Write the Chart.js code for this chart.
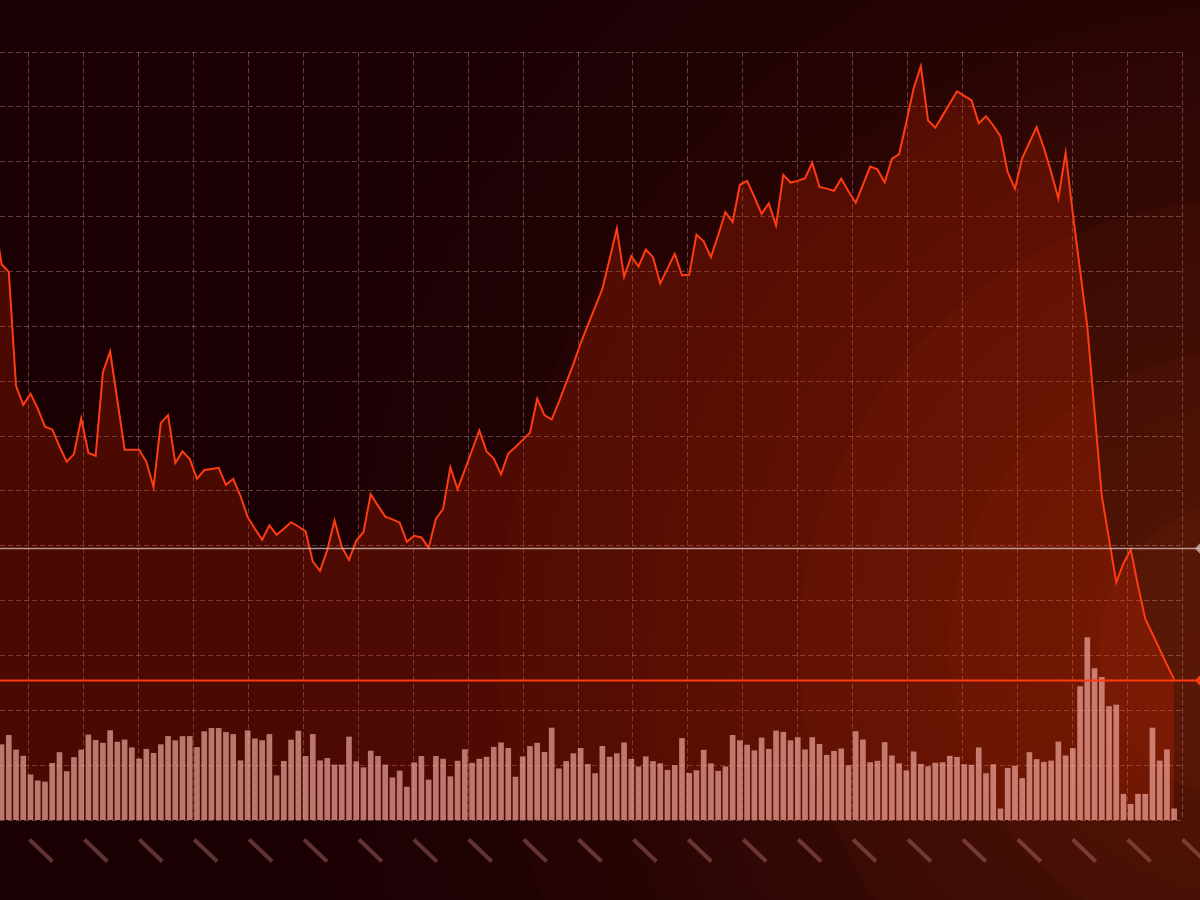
<!DOCTYPE html>
<html>
<head>
<meta charset="utf-8">
<script src="https://cdn.jsdelivr.net/npm/chart.js@4/dist/chart.umd.min.js"></script>
<style>
  html, body {
    margin: 0;
    padding: 0;
    width: 1200px;
    height: 900px;
    overflow: hidden;
    background: #1a0003;
  }
  body {
    background: radial-gradient(circle 1300px at 1250px 650px,
      #5c1806 0px, #561606 150px, #4e1305 151px, #471005 300px,
      #410e04 301px, #3a0b04 450px, #340904 451px, #2d0604 600px,
      #290504 601px, #240304 750px, #200204 751px, #1c0104 950px,
      #1a0003 951px, #1a0003 1300px);
  }
  #wrap { position: absolute; left: 0; top: 0; width: 1200px; height: 900px; }
</style>
</head>
<body>
<div id="wrap"><canvas id="grafico"></canvas></div>
<script>
// Cotação (preço) por barra — o primeiro ponto fica fora da área visível
const prices = [
  40.99, 40.13, 39.99, 37.91, 37.57, 37.77, 37.50, 37.17, 37.12, 36.81, 36.53,
  36.67, 37.32, 36.69, 36.64, 38.16, 38.54, 37.65, 36.75, 36.75, 36.75,
  36.53, 36.07, 37.24, 37.38, 36.51, 36.72, 36.58, 36.22, 36.38, 36.40,
  36.42, 36.11, 36.22, 35.91, 35.52, 35.31, 35.11, 35.37, 35.20, 35.31,
  35.43, 35.35, 35.26, 34.71, 34.54, 34.92, 35.46, 34.98, 34.74, 35.09,
  35.25, 35.94, 35.73, 35.53, 35.48, 35.42, 35.07, 35.18, 35.15, 34.96,
  35.49, 35.67, 36.43, 36.03, 36.38, 36.74, 37.10, 36.72, 36.59, 36.30,
  36.68, 36.80, 36.93, 37.06, 37.68, 37.38, 37.30, 37.62, 37.97, 38.31,
  38.69, 39.02, 39.35, 39.68, 40.22, 40.78, 39.90, 40.28, 40.09, 40.40,
  40.26, 39.78, 40.05, 40.32, 39.93, 39.94, 40.67, 40.55, 40.26, 40.66,
  41.08, 40.90, 41.58, 41.65, 41.36, 41.05, 41.24, 40.84, 41.76, 41.62,
  41.65, 41.70, 41.98, 41.54, 41.51, 41.47, 41.69, 41.46, 41.25, 41.58,
  41.91, 41.86, 41.62, 42.05, 42.14, 42.72, 43.33, 43.74, 42.75, 42.62,
  42.84, 43.06, 43.28, 43.20, 43.12, 42.70, 42.83, 42.66, 42.46, 41.81,
  41.51, 42.06, 42.35, 42.63, 42.25, 41.81, 41.33, 42.16, 41.05, 40.02,
  38.99, 37.44, 35.91, 35.12, 34.33, 34.68, 34.93, 34.27, 33.67, 33.39,
  33.11, 32.83, 32.56
];

// Volume por barra
const volumes = [
  40, 41.2, 46.3, 38.3, 34.9, 24.7, 21.4, 20.8, 31, 36.9, 26.5,
  34.2, 38.3, 46.5, 43.6, 42, 48.9, 42.6, 43.8, 39.5, 33.4,
  38.7, 36.5, 41.2, 45.7, 43.4, 45.7, 45.7, 39.7, 48.3, 50.1,
  50.1, 47.9, 46.8, 32.4, 48.8, 44.4, 43.4, 46.8, 24.2, 32.1,
  43.7, 48.6, 34.8, 46.8, 32.4, 33.7, 30.1, 30.1, 45.4, 31.9,
  28.6, 37.7, 34.8, 30.1, 23.1, 26.8, 18.0, 31.3, 34.8, 21.9,
  34.8, 33.3, 23.7, 32.2, 38.5, 31.1, 33.3, 34.4, 39.8, 42.2,
  39.2, 23.5, 34.6, 40.2, 42, 37, 50.3, 28, 32, 36.3,
  39.2, 30.4, 25.4, 40.3, 34.4, 36.3, 42.2, 33.2, 29.1, 34.6,
  32, 30.8, 27.2, 29.8, 44.6, 25.5, 27, 38.2, 30.8, 26.7,
  29.1, 46.3, 43.4, 41, 37.9, 44.9, 38.7, 48.7, 48, 43.4,
  45.1, 38.4, 45.1, 41.4, 35.4, 37.6, 38.9, 29.7, 48.4, 43.8,
  31.4, 32.2, 42.4, 35.1, 30.8, 27, 37.3, 30.5, 29.2, 31.1,
  31.4, 34.9, 34.3, 30.3, 30, 39.5, 25.4, 30.3, 6.1, 28.3,
  29.5, 22.7, 36.9, 33.1, 31.6, 32.3, 42.7, 35.1, 39.1, 73,
  99.7, 82.8, 78, 62.1, 62.9, 14.1, 8.6, 14.1, 14.1, 50.3,
  32.3, 38.4, 6.1
];

// Fechamento anterior (linha cinza) e último preço (linha laranja)
const prevClose = 34.95;
const lastPrice = prices[prices.length - 1];

const LINE_COLOR = "#ff3b12";

// Linhas de referência, losangos e marcas do eixo
const overlays = {
  id: "overlays",
  afterDatasetsDraw(chart) {
    const { ctx, scales } = chart;
    const nivel = (value, color, width) => {
      const py = Math.round(scales.y.getPixelForValue(value)) + 0.5;
      ctx.save();
      ctx.strokeStyle = color;
      ctx.lineWidth = width;
      ctx.beginPath();
      ctx.moveTo(0, py);
      ctx.lineTo(chart.width, py);
      ctx.stroke();
      ctx.fillStyle = color;
      ctx.beginPath();
      ctx.moveTo(1195, py);
      ctx.lineTo(1204, py - 9.5);
      ctx.lineTo(1213, py);
      ctx.lineTo(1204, py + 9.5);
      ctx.closePath();
      ctx.fill();
      ctx.restore();
    };
    nivel(prevClose, "rgba(214,182,176,0.8)", 1.5);
    nivel(lastPrice, LINE_COLOR, 2);
  },
  afterDraw(chart) {
    const { ctx, scales, chartArea } = chart;
    const xg = scales.xg;
    ctx.save();
    ctx.strokeStyle = "rgba(190,120,120,0.42)";
    ctx.lineWidth = 4;
    xg.ticks.forEach(t => {
      const px = xg.getPixelForValue(t.value);
      ctx.beginPath();
      ctx.moveTo(px + 0.5, chartArea.bottom + 19.5);
      ctx.lineTo(px + 23.5, chartArea.bottom + 41.5);
      ctx.stroke();
    });
    ctx.restore();
  }
};

const gridColor = "rgba(205,140,140,0.42)";

new Chart(document.getElementById("grafico"), {
  data: {
    datasets: [
      {
        type: "bar",
        label: "Volume",
        data: volumes.map((v, i) => ({ x: i, y: v })),
        xAxisID: "x",
        yAxisID: "yv",
        backgroundColor: "rgba(255,188,178,0.62)",
        borderWidth: 0,
        barThickness: 5,
        order: 0
      },
      {
        type: "line",
        label: "Preço",
        data: prices.map((p, i) => ({ x: i, y: p })),
        xAxisID: "x",
        yAxisID: "y",
        borderColor: LINE_COLOR,
        borderWidth: 2,
        backgroundColor: "rgba(230,40,0,0.24)",
        fill: "start",
        tension: 0,
        pointRadius: 0,
        order: 1
      }
    ]
  },
  options: {
    responsive: true,
    maintainAspectRatio: false,
    animation: false,
    layout: { padding: { left: 0, top: 52, right: 18, bottom: 80 } },
    plugins: {
      legend: { display: false },
      tooltip: { enabled: false }
    },
    scales: {
      x: {
        type: "linear",
        min: 0.7845,
        max: 164.08,
        offset: false,
        bounds: "data",
        display: false
      },
      xg: {
        type: "linear",
        position: "bottom",
        min: -0.528,
        max: 21,
        offset: false,
        ticks: { stepSize: 1, display: false, includeBounds: false },
        grid: { color: gridColor, lineWidth: 1, drawTicks: false, offset: false },
        border: { display: false, dash: [5, 3] }
      },
      y: {
        type: "linear",
        position: "left",
        min: 30,
        max: 44,
        ticks: { stepSize: 1, display: false },
        grid: { color: gridColor, lineWidth: 1, drawTicks: false },
        border: { display: false, dash: [5, 3] }
      },
      yv: {
        type: "linear",
        position: "right",
        min: 0,
        max: 420,
        display: false
      }
    }
  },
  plugins: [overlays]
});
</script>
</body>
</html>
